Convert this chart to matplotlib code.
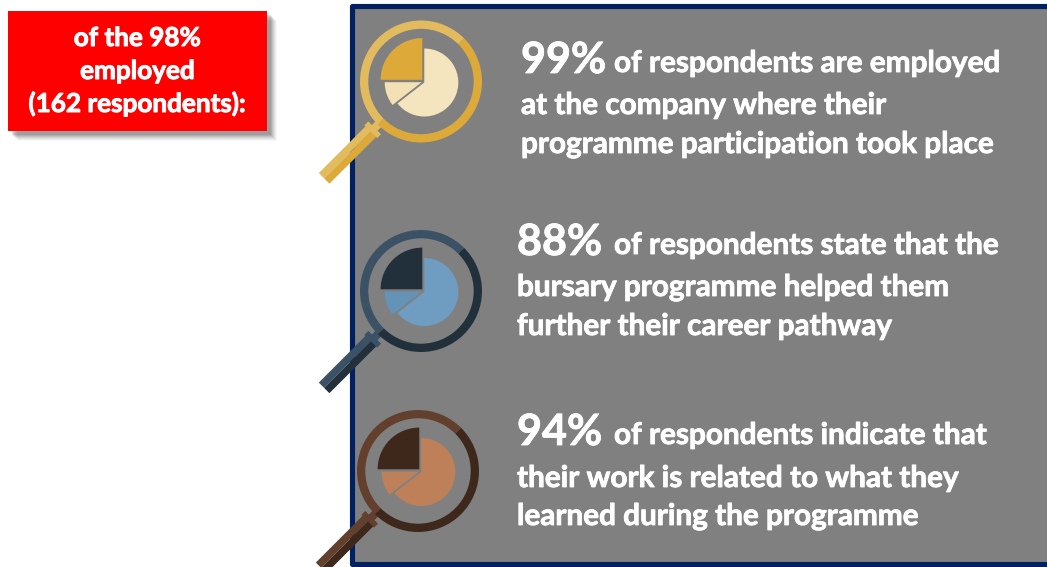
import numpy as np
import matplotlib
matplotlib.use("Agg")
import matplotlib.pyplot as plt
import matplotlib.patheffects as pe
from matplotlib.patches import Rectangle, Wedge, Polygon

# headline box
box_lines = ["of the 98%", "employed", "(162 respondents):"]
box_base = [46, 79, 112]

# panel text
percents = ["99%", "88%", "94%"]
first_lines = ["of respondents are employed", "of respondents state that the", "of respondents indicate that"]
second_lines = ["at the company where their", "bursary programme helped them", "their work is related to what they"]
third_lines = ["programme participation took place", "further their career pathway", "learned during the programme"]
text_x = [521, 517, 517]
base_1 = [72, 254, 444]
base_2 = [114, 296, 487]
base_3 = [153, 335, 525]

# icons
centers = [(421, 81.5), (421, 291), (418, 471)]
ring_light = ["#E3BB5F", "#3A5166", "#63402D"]
ring_dark = ["#DDAA3A", "#22303B", "#3E281C"]
pie_main = ["#F5E5BF", "#6F9DC2", "#BE8059"]
pie_small = ["#F3E0B5", "#6394B8", "#BE8059"]

fig = plt.figure(figsize=(10.47, 5.67), dpi=100)
ax = fig.add_axes([0, 0, 1, 1])
ax.set_xlim(0, 1047)
ax.set_ylim(567, 0)
ax.axis("off")

# panel
ax.add_patch(Rectangle((351.5, 5.5), 720, 558, fc="#808080", ec="#002060", lw=3.7,
                       joinstyle="round", zorder=1))

# red box with soft shadow
for off, alpha in zip([10, 9, 8, 7, 6, 5, 4], [0.04, 0.05, 0.07, 0.09, 0.11, 0.13, 0.16]):
    ax.add_patch(Rectangle((8 + off, 11 + off), 259, 120, fc="#404040", ec="none", alpha=alpha, zorder=2))
ax.add_patch(Rectangle((8, 11), 259, 120, fc="#FF0000", ec="none", zorder=3))
thick = [pe.withStroke(linewidth=0.7, foreground="white")]
for line, y in zip(box_lines, box_base):
    ax.text(137.5, y, line, color="white", fontsize=18.8, fontweight="bold", family="Lato",
            ha="center", va="baseline", zorder=4, path_effects=thick)


def screen_wedge(c, r, a1, a2, color, width=None, z=5):
    # angles measured anticlockwise on screen, y axis is flipped
    ax.add_patch(Wedge(c, r, -a2, -a1, width=width, fc=color, ec="none", zorder=z))


def bar(c, d1, d2, half, color, side=0, z=6):
    # piece of the handle running down-left from the ring centre
    u = np.array([-1, 1]) / np.sqrt(2)
    n = np.array([1, 1]) / np.sqrt(2)
    c = np.array(c)
    lo, hi = (-half, half) if side == 0 else ((-half, 0) if side < 0 else (0, half))
    pts = [c + u * d1 + n * lo, c + u * d2 + n * lo, c + u * d2 + n * hi, c + u * d1 + n * hi]
    ax.add_patch(Polygon(pts, fc=color, ec="none", zorder=z))


for c, light, dark, main, small in zip(centers, ring_light, ring_dark, pie_main, pie_small):
    # handle
    bar(c, 58, 68, 4, light, z=5)
    bar(c, 68, 137, 7.5, light, side=-1)
    bar(c, 68, 137, 7.5, dark, side=1)
    bar(c, 65.5, 71, 9, light, z=7)
    # ring
    screen_wedge(c, 61, 45, 225, light, width=8.3)
    screen_wedge(c, 61, 225, 405, dark, width=8.3)
    # pie
    screen_wedge((c[0] + 3.3, c[1] + 1), 34, 218, 450, main)
    screen_wedge((c[0] + 0.7, c[1] + 0.7), 37, 180, 218, small)
    screen_wedge((c[0] + 1.3, c[1] - 1.7), 41.7, 90, 180, dark)

# panel text
thin = [pe.withStroke(linewidth=0.6, foreground="white")]
for i in range(3):
    ax.text(text_x[i], base_1[i] + 1, percents[i], color="white", fontsize=31, fontweight="bold",
            family="Lato", va="baseline", zorder=8, path_effects=thin)
    for x, y, line in [(614, base_1[i], first_lines[i]),
                       (text_x[i], base_2[i], second_lines[i]),
                       (text_x[i], base_3[i], third_lines[i])]:
        ax.text(x, y, line, color="white", fontsize=21.4, fontweight="bold",
                family="Lato", va="baseline", zorder=8, path_effects=thin)

fig.savefig("out.png", dpi=100)
